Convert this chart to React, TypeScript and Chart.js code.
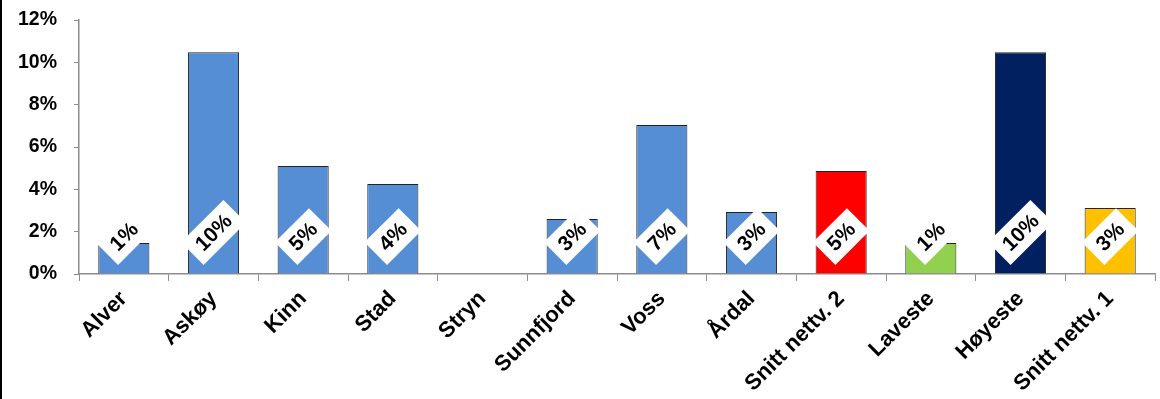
import React, { useEffect, useRef } from "react";
import { Chart, registerables } from "chart.js";

Chart.register(...registerables);

const categories = [
  "Alver",
  "Askøy",
  "Kinn",
  "Stad",
  "Stryn",
  "Sunnfjord",
  "Voss",
  "Årdal",
  "Snitt nettv. 2",
  "Laveste",
  "Høyeste",
  "Snitt nettv. 1",
];

const values = [1.46, 10.48, 5.1, 4.25, 0, 2.6, 7.04, 2.93, 4.87, 1.46, 10.48, 3.12];

const barColors = [
  "#558ED5",
  "#558ED5",
  "#558ED5",
  "#558ED5",
  "#558ED5",
  "#558ED5",
  "#558ED5",
  "#558ED5",
  "#FF0000",
  "#92D050",
  "#002060",
  "#FFC000",
];

const yTicks = [0, 2, 4, 6, 8, 10, 12];

const FONT = "'Liberation Sans', Arial, sans-serif";

const diamondLabels = {
  id: "diamondLabels",
  afterDatasetsDraw(chart: any) {
    const ctx = chart.ctx;
    const meta = chart.getDatasetMeta(0);
    const yBase = chart.scales.y.getPixelForValue(0);
    ctx.save();
    ctx.font = `bold 21px ${FONT}`;
    meta.data.forEach((bar: any, i: number) => {
      const v = values[i];
      if (!v) return;
      const text = Math.round(v) + "%";
      const tw = ctx.measureText(text).width;
      const W = tw + 18;
      const H = 32;
      const half = ((W + H) / 2) * Math.SQRT1_2;
      const cx = bar.x;
      const cy = yBase - 9 - half;
      ctx.save();
      ctx.translate(cx, cy);
      ctx.rotate(-Math.PI / 4);
      ctx.fillStyle = "#FFFFFF";
      ctx.fillRect(-W / 2, -H / 2, W, H);
      ctx.fillStyle = "#000000";
      ctx.textAlign = "center";
      ctx.textBaseline = "middle";
      ctx.fillText(text, 0, 1);
      ctx.restore();
    });
    ctx.restore();
  },
};

export default function App() {
  const ref = useRef<HTMLCanvasElement | null>(null);

  useEffect(() => {
    if (!ref.current) return;
    const chart = new Chart(ref.current, {
      type: "bar",
      data: {
        labels: categories,
        datasets: [
          {
            data: values,
            backgroundColor: barColors,
            borderColor: "#222222",
            borderWidth: 1,
            barPercentage: 0.57,
            categoryPercentage: 1,
          },
        ],
      },
      options: {
        animation: false,
        responsive: false,
        maintainAspectRatio: false,
        layout: { padding: { left: 0, right: 5, top: 20, bottom: 0 } },
        plugins: {
          legend: { display: false },
          tooltip: { enabled: false },
        },
        scales: {
          x: {
            grid: {
              display: true,
              drawOnChartArea: false,
              drawTicks: true,
              tickLength: 7,
              color: "#8C8C8C",
              offset: true,
            },
            border: { display: true, color: "#8C8C8C", width: 1.5 },
            ticks: {
              color: "#000000",
              font: { family: FONT, size: 22, weight: "bold" },
              minRotation: 45,
              maxRotation: 45,
              padding: 5,
              autoSkip: false,
            },
            afterFit(scale: any) {
              scale.height = 125;
              scale.paddingLeft = 0;
              scale.paddingRight = 0;
            },
          },
          y: {
            min: 0,
            max: 12,
            afterBuildTicks(scale: any) {
              scale.ticks = yTicks.map((v) => ({ value: v }));
            },
            grid: {
              display: true,
              drawOnChartArea: false,
              drawTicks: true,
              tickLength: 5,
              color: "#8C8C8C",
            },
            border: { display: true, color: "#8C8C8C", width: 1.5 },
            ticks: {
              color: "#000000",
              font: { family: FONT, size: 19.5, weight: "bold" },
              padding: 17,
              callback: (v: any) => v + "%",
            },
            afterFit(scale: any) {
              scale.width = 77;
              scale.paddingTop = 0;
              scale.paddingBottom = 0;
            },
          },
        },
      },
      plugins: [diamondLabels],
    });
    return () => chart.destroy();
  }, []);

  return (
    <div
      style={{
        position: "fixed",
        left: 0,
        top: 0,
        width: 1160,
        height: 399,
        background: "#FFFFFF",
        boxSizing: "border-box",
        borderLeft: "2px solid #000000",
      }}
    >
      <canvas ref={ref} width={1158} height={399} style={{ display: "block" }} />
    </div>
  );
}
